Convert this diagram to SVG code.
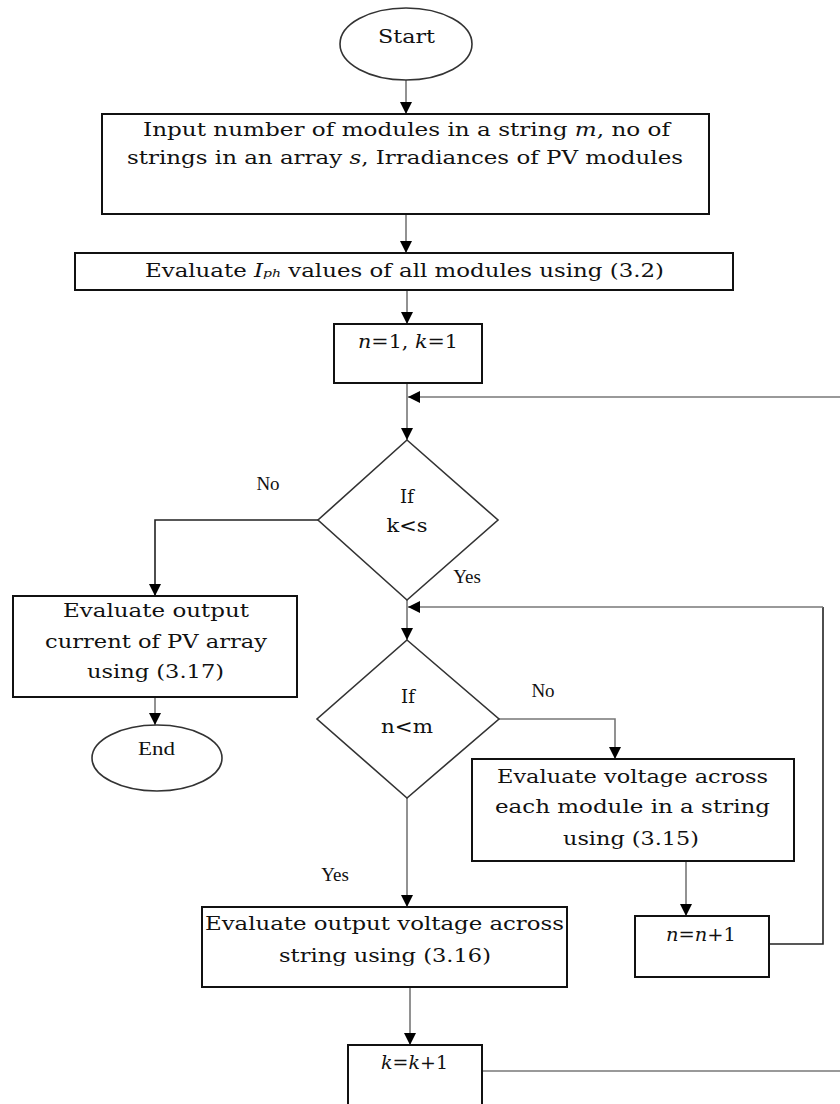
<svg xmlns="http://www.w3.org/2000/svg" width="840" height="1104" viewBox="0 0 840 1104">
<style>
.box{fill:#fff;stroke:#111;stroke-width:2}
.t{font-family:"DejaVu Serif",serif;font-size:18px;fill:#111;text-anchor:middle}
.l{font-family:"Liberation Serif",serif;font-size:19px;fill:#111;text-anchor:middle}
.c{fill:none;stroke:#777;stroke-width:1.6}
.k{fill:none;stroke:#222;stroke-width:1.6}
</style>
<defs>
<marker id="ah" markerUnits="userSpaceOnUse" markerWidth="12" markerHeight="12" viewBox="0 0 12 12" refX="12" refY="6" orient="auto">
<path d="M0,0 L12,6 L0,12 Z" fill="#000"/>
</marker>
</defs>
<rect width="840" height="1104" fill="#fff"/>

<g id="connectors">
<line class="c" x1="406" y1="80" x2="406" y2="114" marker-end="url(#ah)"/>
<line class="c" x1="406" y1="214" x2="406" y2="253" marker-end="url(#ah)"/>
<line class="c" x1="407" y1="290" x2="407" y2="324" marker-end="url(#ah)"/>
<line class="c" x1="407" y1="383" x2="407" y2="440" marker-end="url(#ah)"/>
<line class="c" x1="840" y1="397" x2="408" y2="397" marker-end="url(#ah)"/>
<polyline class="k" points="318,520 155,520 155,596" marker-end="url(#ah)"/>
<line class="c" x1="407" y1="600" x2="407" y2="640" marker-end="url(#ah)"/>
<polyline class="k" points="769,944 823,944 823,607" />
<line class="c" x1="823" y1="607" x2="408" y2="607" marker-end="url(#ah)"/>
<line class="c" x1="155" y1="697" x2="155" y2="725" marker-end="url(#ah)"/>
<polyline class="c" points="499,719 615,719 615,759" marker-end="url(#ah)"/>
<line class="c" x1="407" y1="798" x2="407" y2="907" marker-end="url(#ah)"/>
<line class="c" x1="686" y1="861" x2="686" y2="916" marker-end="url(#ah)"/>
<line class="c" x1="410" y1="987" x2="410" y2="1045" marker-end="url(#ah)"/>
<line class="c" x1="482" y1="1071" x2="840" y2="1071"/>
</g>

<g id="start">
<ellipse cx="406" cy="44" rx="66" ry="36" fill="#fff" stroke="#333" stroke-width="1.6"/>
<text class="t" x="406.5" y="43" textLength="57" lengthAdjust="spacingAndGlyphs">Start</text>
</g>

<g id="input">
<rect class="box" x="102" y="114" width="607" height="100"/>
<text class="t" x="406.5" y="136" textLength="527" lengthAdjust="spacingAndGlyphs">Input number of modules in a string <tspan font-style="italic">m</tspan>, no of</text>
<text class="t" x="405" y="164" textLength="556" lengthAdjust="spacingAndGlyphs">strings in an array <tspan font-style="italic">s</tspan>, Irradiances of PV modules</text>
</g>

<g id="evaluate-iph">
<rect class="box" x="75" y="253" width="658" height="37"/>
<text class="t" x="404.5" y="277" textLength="519" lengthAdjust="spacingAndGlyphs">Evaluate <tspan font-style="italic">I</tspan><tspan font-style="italic" font-size="11px">ph</tspan> values of all modules using (3.2)</text>
</g>

<g id="init">
<rect class="box" x="334" y="324" width="148" height="59"/>
<text class="t" x="408" y="348" textLength="100" lengthAdjust="spacingAndGlyphs"><tspan font-style="italic">n</tspan>=1, <tspan font-style="italic">k</tspan>=1</text>
</g>

<g id="decision-k">
<polygon points="407,440 498,520 407,600 318,520" fill="#fff" stroke="#333" stroke-width="1.6"/>
<text class="t" x="407" y="503">If</text>
<text class="t" x="407" y="532" textLength="41" lengthAdjust="spacingAndGlyphs">k&lt;s</text>
</g>
<text class="l" x="268" y="490">No</text>
<text class="l" x="467" y="583">Yes</text>

<g id="output-current">
<rect class="box" x="13" y="596" width="284" height="101"/>
<text class="t" x="156" y="617" textLength="186" lengthAdjust="spacingAndGlyphs">Evaluate output</text>
<text class="t" x="156" y="648" textLength="222" lengthAdjust="spacingAndGlyphs">current of PV array</text>
<text class="t" x="155.5" y="678" textLength="137" lengthAdjust="spacingAndGlyphs">using (3.17)</text>
</g>

<g id="end">
<ellipse cx="157" cy="758" rx="65" ry="33" fill="#fff" stroke="#333" stroke-width="1.6"/>
<text class="l" x="156.5" y="755" textLength="37" lengthAdjust="spacingAndGlyphs">End</text>
</g>

<g id="decision-n">
<polygon points="407,640 499,719 407,798 317,719" fill="#fff" stroke="#333" stroke-width="1.6"/>
<text class="t" x="408" y="703">If</text>
<text class="t" x="407" y="733" textLength="52" lengthAdjust="spacingAndGlyphs">n&lt;m</text>
</g>
<text class="l" x="543" y="697">No</text>
<text class="l" x="335" y="881">Yes</text>

<g id="voltage-module">
<rect class="box" x="472" y="759" width="322" height="102"/>
<text class="t" x="632.5" y="783" textLength="271" lengthAdjust="spacingAndGlyphs">Evaluate voltage across</text>
<text class="t" x="632.5" y="813" textLength="275" lengthAdjust="spacingAndGlyphs">each module in a string</text>
<text class="t" x="631" y="845" textLength="136" lengthAdjust="spacingAndGlyphs">using (3.15)</text>
</g>

<g id="output-voltage">
<rect class="box" x="202" y="907" width="365" height="80"/>
<text class="t" x="384.5" y="930" textLength="359" lengthAdjust="spacingAndGlyphs">Evaluate output voltage across</text>
<text class="t" x="385" y="962" textLength="212" lengthAdjust="spacingAndGlyphs">string using (3.16)</text>
</g>

<g id="n-increment">
<rect class="box" x="635" y="916" width="134" height="61"/>
<text class="t" x="701" y="941" textLength="70" lengthAdjust="spacingAndGlyphs"><tspan font-style="italic">n</tspan>=<tspan font-style="italic">n</tspan>+1</text>
</g>

<g id="k-increment">
<rect class="box" x="348" y="1045" width="134" height="70"/>
<text class="t" x="414.5" y="1069" textLength="67" lengthAdjust="spacingAndGlyphs"><tspan font-style="italic">k</tspan>=<tspan font-style="italic">k</tspan>+1</text>
</g>
</svg>
